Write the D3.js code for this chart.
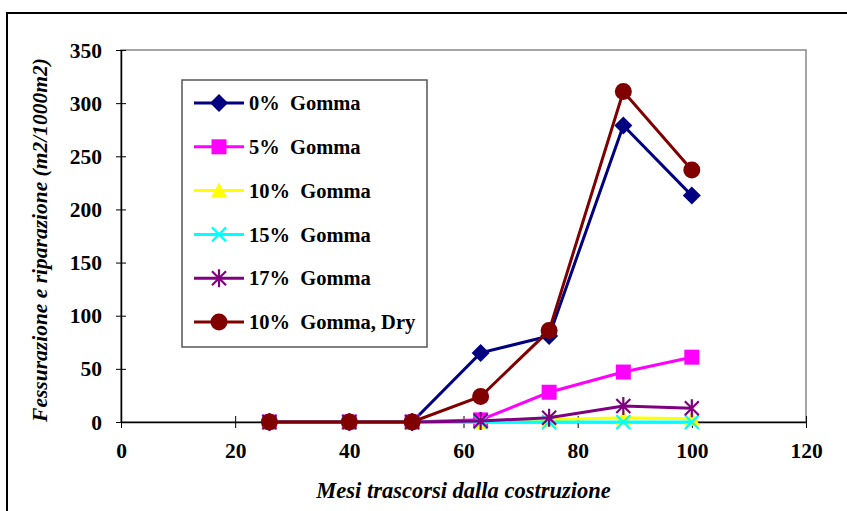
<!DOCTYPE html>
<html><head><meta charset="utf-8">
<script src="https://cdn.jsdelivr.net/npm/d3@7/dist/d3.min.js"></script>
<style>
body{margin:0;background:#fff;}
text{font-family:"Liberation Serif","Times New Roman",serif;font-weight:bold;}
</style></head><body>
<svg id="c" width="847" height="511"></svg>
<script>
const months = [26, 40, 51, 63, 75, 88, 100];
const seriesNames = ["0%  Gomma","5%  Gomma","10%  Gomma","15%  Gomma","17%  Gomma","10%  Gomma, Dry"];
const gomma0  = [0, 0, 0, 65, 81, 279, 213];
const gomma5  = [0, 0, 0, 2, 28, 47, 61];
const gomma10 = [0, 0, 0, 0, 2, 4, 3];
const gomma15 = [0, 0, 0, 0, 0, 0, 0];
const gomma17 = [0, 0, 0, 1, 4, 15, 13];
const gomma10dry = [0, 0, 0, 24, 86, 311, 237];
const xTicks = [0, 20, 40, 60, 80, 100, 120];
const yTicks = [0, 50, 100, 150, 200, 250, 300, 350];
const xTitle = "Mesi trascorsi dalla costruzione";
const yTitle = "Fessurazione e riparazione (m2/1000m2)";

const colors = ["#000080","#FF00FF","#FFFF00","#00FFFF","#800080","#800000"];
const markers = ["diamond","square","triangle","x","star","circle"];
const allValues = [gomma0, gomma5, gomma10, gomma15, gomma17, gomma10dry];

const svg = d3.select("#c");
// outer frame
svg.append("rect").attr("x",7).attr("y",13).attr("width",845).attr("height",510)
  .attr("fill","none").attr("stroke","#000").attr("stroke-width",2);

const L=121, R=806, T=50, B=422;
const x = d3.scaleLinear().domain([0,120]).range([L,R]);
const y = d3.scaleLinear().domain([0,350]).range([B,T]);

// plot area border
svg.append("rect").attr("x",L).attr("y",T).attr("width",R-L).attr("height",B-T)
  .attr("fill","none").attr("stroke","#888").attr("stroke-width",1.5);

// axes
const yAxis = d3.axisLeft(y).tickValues(yTicks).tickSize(5).tickPadding(14).tickSizeOuter(0);
const gy = svg.append("g").attr("transform",`translate(${L},0)`).call(yAxis);
gy.selectAll(".tick line").attr("x2",-5).attr("x1",5);
const xAxis = d3.axisBottom(x).tickValues(xTicks).tickSize(6).tickPadding(15).tickSizeOuter(0);
const gx = svg.append("g").attr("transform",`translate(0,${B})`).call(xAxis);
gx.selectAll(".tick line").attr("y1",-6).attr("y2",6);
[gx,gy].forEach(g=>{
  g.select(".domain").attr("stroke","#000").attr("stroke-width",1.5);
  g.selectAll(".tick line").attr("stroke","#000").attr("stroke-width",1);
  g.selectAll(".tick text").attr("font-size",21.5).attr("font-family","Liberation Serif").attr("font-weight","bold").attr("fill","#000");
});
gy.selectAll(".tick text").attr("dy","0.33em");

// titles
svg.append("text").attr("x",(L+R)/2).attr("y",498).attr("text-anchor","middle")
  .attr("font-size",22.5).attr("font-style","italic").text(xTitle);
svg.append("text").attr("transform",`translate(47,${(T+B)/2 + 4}) rotate(-90)`).attr("text-anchor","middle")
  .attr("font-size",21.5).attr("font-style","italic").text(yTitle);

function drawMarker(g, type, cx, cy, color){
  if(type==="diamond"){
    g.append("path").attr("d",`M${cx},${cy-9}L${cx+9},${cy}L${cx},${cy+9}L${cx-9},${cy}Z`).attr("fill",color);
  } else if(type==="square"){
    g.append("rect").attr("x",cx-7.5).attr("y",cy-7.5).attr("width",15).attr("height",15).attr("fill",color);
  } else if(type==="triangle"){
    g.append("path").attr("d",`M${cx},${cy-8}L${cx+8},${cy+7}L${cx-8},${cy+7}Z`).attr("fill",color);
  } else if(type==="x"){
    g.append("path").attr("d",`M${cx-7},${cy-7}L${cx+7},${cy+7}M${cx-7},${cy+7}L${cx+7},${cy-7}`).attr("stroke",color).attr("stroke-width",2.2);
  } else if(type==="star"){
    g.append("path").attr("d",`M${cx-7},${cy-7}L${cx+7},${cy+7}M${cx-7},${cy+7}L${cx+7},${cy-7}M${cx},${cy-9}L${cx},${cy+9}`).attr("stroke",color).attr("stroke-width",2.2);
  } else if(type==="circle"){
    g.append("circle").attr("cx",cx).attr("cy",cy).attr("r",8.5).attr("fill",color);
  }
}

const line = d3.line().x(d=>x(d[0])).y(d=>y(d[1]));
allValues.forEach((vals,i)=>{
  const g = svg.append("g");
  const pts = months.map((m,j)=>[m,vals[j]]);
  g.append("path").attr("d",line(pts)).attr("fill","none").attr("stroke",colors[i]).attr("stroke-width",3);
  pts.forEach(p=>drawMarker(g, markers[i], x(p[0]), y(p[1]), colors[i]));
});

// legend
const lg = svg.append("g");
lg.append("rect").attr("x",182).attr("y",80).attr("width",245).attr("height",267)
  .attr("fill","#fff").attr("stroke","#555").attr("stroke-width",1.5);
seriesNames.forEach((name,i)=>{
  const ly = 103 + i*43.8;
  lg.append("line").attr("x1",194).attr("x2",244).attr("y1",ly).attr("y2",ly).attr("stroke",colors[i]).attr("stroke-width",3);
  drawMarker(lg, markers[i], 219, ly, colors[i]);
  lg.append("text").attr("x",249).attr("y",ly).attr("dy","0.35em").attr("font-size",20.5)
    .style("white-space","pre").text(name);
});
</script></body></html>
